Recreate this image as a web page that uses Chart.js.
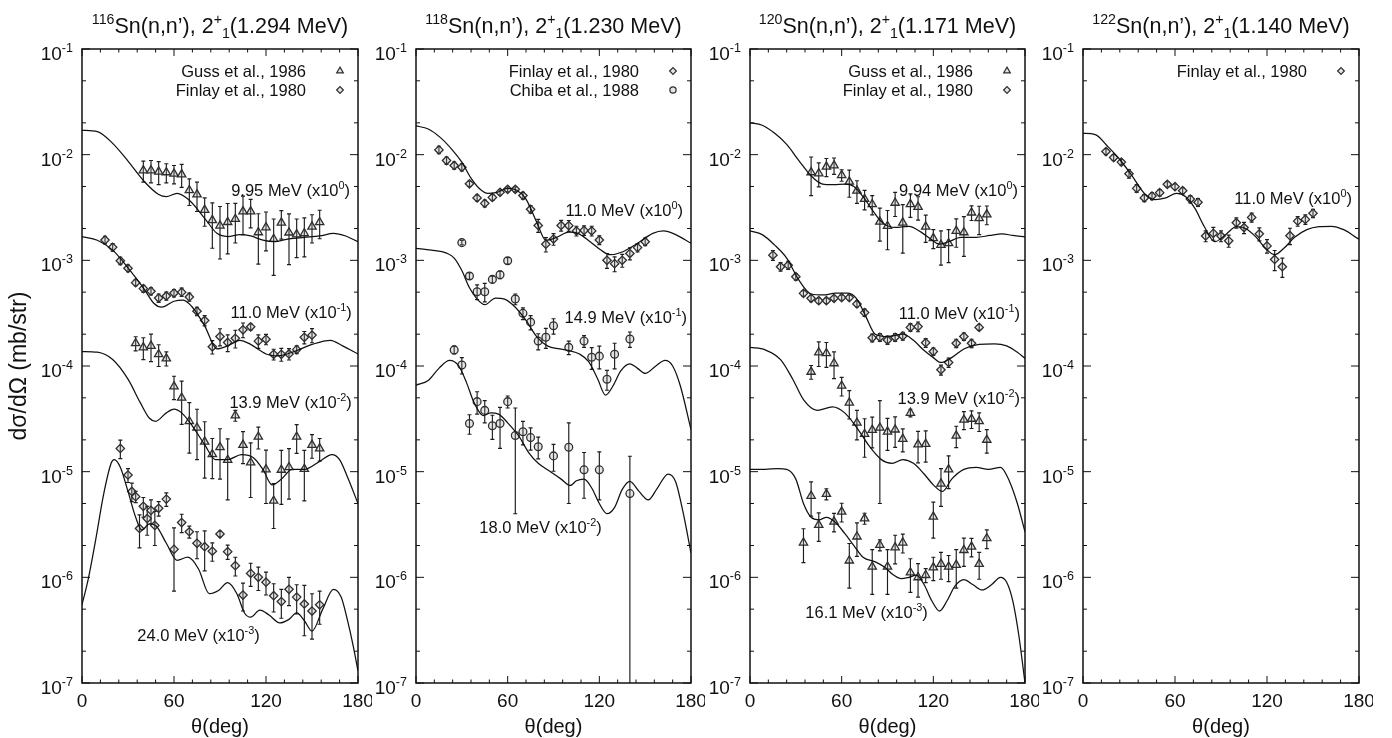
<!DOCTYPE html>
<html>
<head>
<meta charset="utf-8">
<title>Sn(n,n') 2+ angular distributions</title>
<script src="https://cdn.jsdelivr.net/npm/chart.js@4.4.1/dist/chart.umd.min.js"></script>
<style>
    html, body { margin: 0; padding: 0; background: #fff; }
    #figure { position: relative; width: 1392px; height: 738px; overflow: hidden; }
    #figure canvas { position: absolute; top: 0; }
</style>
</head>
<body>
<div id="figure">
    <canvas id="chart_sn116"></canvas>
    <canvas id="chart_sn118"></canvas>
    <canvas id="chart_sn120"></canvas>
    <canvas id="chart_sn122"></canvas>
</div>
<script>
// ---- axes ----
var xTickLabels = [0, 60, 120, 180];
var yTickExponents = [-7, -6, -5, -4, -3, -2, -1];

// ---- measured angles (deg) ----
var theta_finlay = [15, 20, 25, 30, 35, 40, 45, 50, 55, 60, 65, 70, 75, 80, 85, 90, 95, 100, 105, 110, 115, 120, 125, 130, 135, 140, 145, 150];
var theta_guss40 = [40, 45, 50, 55, 60, 65, 70, 75, 80, 85, 90, 95, 100, 105, 110, 115, 120, 125, 130, 135, 140, 145, 150, 155];
var theta_guss35 = [35, 40, 45, 50, 55, 60, 65, 70, 75, 80, 85, 90, 95, 100, 105, 110, 115, 120, 125, 130, 135, 140, 145, 150, 155];
var theta_finlay24 = [25, 30, 32.5, 35, 37.5, 40, 42.5, 45, 47.5, 50, 55, 60, 65, 70, 75, 80, 85, 90, 95, 100, 105, 110, 115, 120, 125, 130, 135, 140, 145, 150, 155];
var theta_chiba149 = [30, 35, 40, 45, 50, 55, 60, 65, 70, 75, 80, 85, 90, 100, 110, 115, 120, 125, 130, 140];
var theta_chiba180 = [25, 30, 35, 40, 45, 50, 55, 60, 65, 70, 75, 80, 90, 100, 110, 120, 140];

// ---- 116Sn data (mb/str, already scaled) ----
var sn116_guss995 = [7.1e-3, 7.1e-3, 6.9e-3, 6.8e-3, 6.6e-3, 6.5e-3, 4.6e-3, 4.2e-3, 3.0e-3, 2.4e-3, 2.13e-3, 2.3e-3, 2.46e-3, 2.9e-3, 2.9e-3, 1.84e-3, 2.05e-3, 1.59e-3, 2.27e-3, 1.83e-3, 1.76e-3, 1.80e-3, 2.08e-3, 2.29e-3];
var sn116_guss995_err = [1.6e-3, 1.7e-3, 1.7e-3, 1.4e-3, 1.3e-3, 1.6e-3, 1.3e-3, 1.3e-3, 9e-4, 1.1e-3, 1.1e-3, 1.15e-3, 1e-3, 1.15e-3, 8.7e-4, 9.2e-4, 8.2e-4, 8.7e-4, 6.8e-4, 9.2e-4, 7e-4, 7.2e-4, 6.2e-4, 6.9e-4];
var sn116_finlay110 = [1.56e-3, 1.33e-3, 9.9e-4, 8.4e-4, 6.15e-4, 5.4e-4, 5.1e-4, 4.4e-4, 4.6e-4, 4.9e-4, 5.0e-4, 4.5e-4, 3.3e-4, 2.7e-4, 1.52e-4, 1.9e-4, 1.67e-4, 1.83e-4, 2.2e-4, 2.35e-4, 1.72e-4, 1.79e-4, 1.29e-4, 1.29e-4, 1.3e-4, 1.43e-4, 1.87e-4, 1.96e-4];
var sn116_finlay110_err = [1.3e-4, 1.1e-4, 8e-5, 6e-5, 4e-5, 4e-5, 4e-5, 4e-5, 4e-5, 4e-5, 4.5e-5, 4e-5, 3e-5, 3e-5, 2.2e-5, 3.5e-5, 3e-5, 3.5e-5, 3.5e-5, 1.5e-5, 2.5e-5, 2e-5, 1.5e-5, 1.8e-5, 1.6e-5, 1.2e-5, 2.5e-5, 3e-5];
var sn116_guss139 = [1.64e-4, 1.5e-4, 1.55e-4, 1.29e-4, 1.18e-4, 6.4e-5, 5.0e-5, 3.0e-5, 2.6e-5, 1.92e-5, 1.46e-5, 1.7e-5, 1.29e-5, 3.4e-5, 1.79e-5, 1.22e-5, 2.14e-5, 1.05e-5, 5.3e-6, 1.04e-5, 1.1e-5, 2.14e-5, 1.06e-5, 1.79e-5, 1.66e-5];
var sn116_guss139_err = [2.5e-5, 3.5e-5, 4.5e-5, 3e-5, 1.8e-5, 1.6e-5, 2.2e-5, 1.5e-5, 1.3e-5, 1.05e-5, 6e-6, 8.5e-6, 7.5e-6, 4e-6, 6e-6, 6.5e-6, 5e-6, 5.5e-6, 2.4e-6, 5.5e-6, 5.5e-6, 6.5e-6, 5.3e-6, 4.5e-6, 4e-6];
var sn116_finlay240 = [1.66e-5, 9.3e-6, 6.5e-6, 5.8e-6, 2.9e-6, 4.7e-6, 3.6e-6, 4.3e-6, 3.1e-6, 4.5e-6, 5.5e-6, 1.84e-6, 3.3e-6, 2.7e-6, 2.1e-6, 1.95e-6, 1.77e-6, 2.57e-6, 1.75e-6, 1.29e-6, 6.8e-7, 1.09e-6, 1.0e-6, 9.0e-7, 6.7e-7, 5.9e-7, 7.7e-7, 6.5e-7, 5.6e-7, 4.8e-7, 5.5e-7];
var sn116_finlay240_err = [3.3e-6, 1.4e-6, 1.3e-6, 7e-7, 1e-6, 1e-6, 1.1e-6, 1.1e-6, 1.1e-6, 7e-7, 8e-7, 1.1e-6, 6.5e-7, 3.5e-7, 6e-7, 8e-7, 3.5e-7, 1.5e-7, 2.7e-7, 2.6e-7, 2e-7, 2.7e-7, 2.5e-7, 2.2e-7, 2e-7, 1.8e-7, 2.3e-7, 2e-7, 2.8e-7, 2.2e-7, 1.9e-7];

// ---- 118Sn data ----
var sn118_finlay110 = [1.11e-2, 8.8e-3, 7.9e-3, 7.6e-3, 5.3e-3, 3.9e-3, 3.46e-3, 3.94e-3, 4.4e-3, 4.7e-3, 4.7e-3, 4.1e-3, 3.04e-3, 2.14e-3, 1.42e-3, 1.59e-3, 2.14e-3, 2.13e-3, 1.9e-3, 1.92e-3, 1.9e-3, 1.56e-3, 1.0e-3, 9.3e-4, 1.0e-3, 1.16e-3, 1.32e-3, 1.5e-3];
var sn118_finlay110_err = [9e-4, 7e-4, 6e-4, 6e-4, 3e-4, 2.5e-4, 2.5e-4, 2.5e-4, 2.5e-4, 2.5e-4, 2.5e-4, 3e-4, 2.5e-4, 3e-4, 2.2e-4, 2e-4, 2.5e-4, 2.5e-4, 2e-4, 2e-4, 2e-4, 1.5e-4, 1.6e-4, 1.5e-4, 1.4e-4, 1.5e-4, 1.2e-4, 1.2e-4];
var sn118_chiba149 = [1.47e-3, 7.1e-4, 5.05e-4, 5.05e-4, 6.6e-4, 7.3e-4, 9.9e-4, 4.3e-4, 3.15e-4, 2.6e-4, 1.72e-4, 1.87e-4, 2.4e-4, 1.5e-4, 1.72e-4, 1.21e-4, 1.24e-4, 7.5e-5, 1.29e-4, 1.8e-4];
var sn118_chiba149_err = [7e-5, 5e-5, 8e-5, 1e-4, 5e-5, 6e-5, 7e-5, 5e-5, 4e-5, 4e-5, 3e-5, 4e-5, 4e-5, 2.2e-5, 2.2e-5, 2.8e-5, 3e-5, 1.6e-5, 3.5e-5, 3e-5];
var sn118_chiba180 = [1.42e-4, 1.02e-4, 2.86e-5, 4.6e-5, 3.8e-5, 2.72e-5, 2.86e-5, 4.6e-5, 2.2e-5, 2.39e-5, 2.1e-5, 1.72e-5, 1.41e-5, 1.7e-5, 1.04e-5, 1.04e-5, 6.2e-6];
var sn118_chiba180_err = [1.2e-5, 1.8e-5, 6e-6, 1.1e-5, 9e-6, 7e-6, 1.2e-5, 6e-6, 1.8e-5, 6e-6, 5e-6, 4e-6, 4e-6, 1.2e-5, 4.8e-6, 5e-6, 7.8e-6];

// ---- 120Sn data ----
var sn120_guss994 = [6.8e-3, 6.65e-3, 7.7e-3, 7.9e-3, 6.4e-3, 5.55e-3, 4.56e-3, 3.8e-3, 3.39e-3, 2.32e-3, 2.11e-3, 3.5e-3, 2.27e-3, 3.4e-3, 3.2e-3, 2.08e-3, 1.62e-3, 1.4e-3, 1.45e-3, 1.9e-3, 1.84e-3, 2.83e-3, 2.5e-3, 2.72e-3];
var sn120_guss994_err = [2.7e-3, 1.7e-3, 1.5e-3, 1.4e-3, 8e-4, 1.6e-3, 1.1e-3, 8e-4, 7e-4, 8e-4, 8.5e-4, 9e-4, 1.1e-3, 8.5e-4, 8e-4, 6e-4, 3.3e-4, 5e-4, 5e-4, 5.7e-4, 7.5e-4, 4.5e-4, 7.5e-4, 5.5e-4];
var sn120_finlay110 = [1.12e-3, 8.7e-4, 9.0e-4, 7.0e-4, 4.87e-4, 4.37e-4, 4.15e-4, 4.15e-4, 4.37e-4, 4.44e-4, 4.44e-4, 3.87e-4, 3.2e-4, 1.85e-4, 1.87e-4, 1.76e-4, 1.87e-4, 1.92e-4, 2.32e-4, 2.36e-4, 1.66e-4, 1.37e-4, 9.2e-5, 1.08e-4, 1.64e-4, 1.9e-4, 1.64e-4, 2.32e-4];
var sn120_finlay110_err = [1.2e-4, 8e-5, 8e-5, 5e-5, 3e-5, 3e-5, 2.5e-5, 2.5e-5, 2.5e-5, 2.5e-5, 2.5e-5, 2.5e-5, 2.5e-5, 1.6e-5, 1.6e-5, 1.6e-5, 1.6e-5, 1.6e-5, 2e-5, 2.5e-5, 1.6e-5, 1.1e-5, 1e-5, 1.1e-5, 1.5e-5, 1.5e-5, 1.5e-5, 1.5e-5];
var sn120_guss139 = [8.8e-5, 1.34e-4, 1.32e-4, 1.06e-4, 6.5e-5, 4.5e-5, 2.9e-5, 2.27e-5, 2.48e-5, 2.6e-5, 2.39e-5, 2.5e-5, 2.04e-5, 3.6e-5, 1.81e-5, 1.83e-5, 3.75e-6, 7.7e-6, 1.05e-5, 2.19e-5, 3.1e-5, 3.16e-5, 3.0e-5, 2.0e-5];
var sn120_guss139_err = [1.3e-5, 3.5e-5, 3.5e-5, 3e-5, 1.3e-5, 1.35e-5, 9e-6, 9e-6, 8e-6, 2.1e-5, 8e-6, 8e-6, 5e-6, 3e-6, 6e-6, 6e-6, 1.4e-6, 3e-6, 3.6e-6, 5e-6, 6e-6, 6e-6, 6e-6, 5e-6];
var sn120_guss161 = [2.13e-6, 5.9e-6, 3.13e-6, 6.15e-6, 3.36e-6, 4.18e-6, 1.44e-6, 2.43e-6, 3.61e-6, 1.26e-6, 2.02e-6, 1.26e-6, 1.92e-6, 2.13e-6, 1.11e-6, 1.0e-6, 1.05e-6, 1.24e-6, 1.34e-6, 1.26e-6, 1.31e-6, 1.81e-6, 1.95e-6, 1.34e-6, 2.34e-6];
var sn120_guss161_err = [7.5e-7, 2.1e-6, 9.4e-7, 7.4e-7, 6.7e-7, 8.4e-7, 6.5e-7, 8.5e-7, 4.3e-7, 5.7e-7, 2.4e-7, 5.7e-7, 5.8e-7, 4.3e-7, 3.9e-7, 3.5e-7, 1.6e-7, 3.1e-7, 3.8e-7, 3.5e-7, 5.2e-7, 5.4e-7, 3.9e-7, 3.8e-7, 4.7e-7];

// ---- 122Sn data ----
var sn122_finlay110 = [1.07e-2, 9.4e-3, 8.5e-3, 6.6e-3, 4.8e-3, 3.9e-3, 4.06e-3, 4.37e-3, 5.24e-3, 4.98e-3, 4.56e-3, 3.8e-3, 3.54e-3, 1.7e-3, 1.8e-3, 1.7e-3, 1.53e-3, 2.27e-3, 2.04e-3, 2.55e-3, 1.78e-3, 1.37e-3, 1.02e-3, 8.7e-4, 1.71e-3, 2.35e-3, 2.44e-3, 2.79e-3];
var sn122_finlay110_err = [7e-4, 6e-4, 5e-4, 6e-4, 4e-4, 3e-4, 3e-4, 3e-4, 3e-4, 3e-4, 3e-4, 3e-4, 3e-4, 2e-4, 2.5e-4, 2e-4, 2e-4, 2.5e-4, 2.5e-4, 2.5e-4, 2.5e-4, 2e-4, 2.2e-4, 1.8e-4, 3e-4, 2.5e-4, 2.5e-4, 2.5e-4];

// ---- calculated cross sections ----
var calc116_995_t = [0, 10, 20, 30, 40, 50, 55, 62, 70, 80, 88, 95, 103, 110, 118, 125, 135, 145, 155, 164, 172, 180];
var calc116_995 = [1.7e-2, 1.65e-2, 1.28e-2, 8.7e-3, 5.7e-3, 4.2e-3, 4.0e-3, 4.3e-3, 3.7e-3, 2.5e-3, 1.8e-3, 1.68e-3, 1.75e-3, 1.7e-3, 1.55e-3, 1.5e-3, 1.6e-3, 1.65e-3, 1.7e-3, 1.8e-3, 1.7e-3, 1.5e-3];
var calc116_110_t = [0, 10, 20, 30, 40, 47, 52, 60, 66, 72, 80, 88, 95, 103, 110, 120, 128, 140, 150, 162, 170, 180];
var calc116_110 = [1.68e-3, 1.55e-3, 1.25e-3, 8.5e-4, 5.5e-4, 3.9e-4, 3.6e-4, 4.1e-4, 4.2e-4, 3.6e-4, 2.4e-4, 1.45e-4, 1.55e-4, 1.75e-4, 1.6e-4, 1.3e-4, 1.25e-4, 1.4e-4, 1.6e-4, 1.75e-4, 1.55e-4, 1.3e-4];
var calc116_139_t = [0, 10, 20, 30, 38, 44, 48, 55, 60, 65, 72, 80, 87, 95, 104, 112, 118, 124, 130, 137, 145, 155, 163, 168, 173, 180];
var calc116_139 = [1.37e-4, 1.35e-4, 1.15e-4, 7.5e-5, 4.5e-5, 3.2e-5, 3.0e-5, 3.6e-5, 3.9e-5, 3.6e-5, 2.7e-5, 1.8e-5, 1.3e-5, 1.3e-5, 1.45e-5, 1.35e-5, 1.05e-5, 7.5e-6, 8.5e-6, 1.05e-5, 1.05e-5, 1.25e-5, 1.45e-5, 1.3e-5, 9e-6, 5e-6];
var calc116_240_t = [0, 4, 9, 14, 19, 21, 25, 30, 35, 39, 44, 48, 55, 62, 69, 76, 83, 89, 95, 101, 106, 110, 116, 122, 129, 135, 140, 145, 150, 157, 164, 169, 173, 177, 180];
var calc116_240 = [5.5e-7, 9.5e-7, 2.3e-6, 6e-6, 1.2e-5, 1.3e-5, 1.1e-5, 6.5e-6, 3.7e-6, 2.8e-6, 3.2e-6, 3.1e-6, 2.1e-6, 1.45e-6, 1.55e-6, 1.2e-6, 7e-7, 7.5e-7, 8.9e-7, 7e-7, 4.6e-7, 4.2e-7, 4.9e-7, 4.4e-7, 3.7e-7, 4.0e-7, 4.6e-7, 3.9e-7, 3.1e-7, 5e-7, 7.7e-7, 6.5e-7, 4e-7, 2.2e-7, 1.3e-7];

var calc118_110_t = [0, 8, 16, 24, 30, 36, 42, 47, 53, 60, 66, 72, 79, 85, 92, 100, 106, 114, 121, 127, 135, 145, 155, 162, 170, 180];
var calc118_110 = [1.87e-2, 1.75e-2, 1.45e-2, 1.1e-2, 8.5e-3, 6e-3, 4.7e-3, 4.3e-3, 4.4e-3, 4.8e-3, 4.6e-3, 3.8e-3, 2.3e-3, 1.55e-3, 1.65e-3, 1.85e-3, 1.8e-3, 1.5e-3, 1.25e-3, 1.13e-3, 1.2e-3, 1.45e-3, 1.8e-3, 1.9e-3, 1.75e-3, 1.45e-3];
var calc118_149_t = [0, 10, 20, 25, 30, 35, 40, 45, 52, 58, 65, 72, 79, 86, 94, 100, 107, 113, 119, 124, 129, 134, 140, 145, 150, 157, 163, 168, 173, 180];
var calc118_149 = [1.3e-3, 1.25e-3, 1.17e-3, 1.05e-3, 8e-4, 5.5e-4, 4.3e-4, 3.8e-4, 4.4e-4, 4.3e-4, 3.6e-4, 2.7e-4, 1.9e-4, 1.55e-4, 1.45e-4, 1.4e-4, 1.3e-4, 1.1e-4, 7.5e-5, 5.3e-5, 6.5e-5, 9e-5, 1.05e-4, 9.5e-5, 8.5e-5, 1e-4, 1.13e-4, 1e-4, 6.5e-5, 2.5e-5];
var calc118_180_t = [0, 8, 15, 22, 28, 33, 38, 44, 49, 54, 60, 67, 74, 80, 88, 95, 101, 105, 110, 115, 120, 125, 130, 135, 140, 146, 152, 158, 165, 170, 175, 180];
var calc118_180 = [6.6e-5, 7.3e-5, 9.5e-5, 1.13e-4, 1e-4, 7e-5, 4.5e-5, 3.4e-5, 3.6e-5, 3.5e-5, 2.9e-5, 2.2e-5, 1.5e-5, 1.2e-5, 1.0e-5, 8.5e-6, 7.4e-6, 8.2e-6, 8.5e-6, 7e-6, 5e-6, 4e-6, 4.6e-6, 6.8e-6, 8.1e-6, 6.5e-6, 5.4e-6, 7e-6, 9.5e-6, 8e-6, 4e-6, 1.7e-6];

var calc120_994_t = [0, 8, 16, 24, 32, 40, 47, 55, 62, 68, 74, 80, 87, 95, 104, 112, 118, 124, 130, 138, 148, 157, 165, 172, 180];
var calc120_994 = [2.0e-2, 1.9e-2, 1.6e-2, 1.25e-2, 8.8e-3, 6.3e-3, 5.3e-3, 5.2e-3, 5.25e-3, 5e-3, 4e-3, 3e-3, 2.25e-3, 2.05e-3, 2.1e-3, 1.85e-3, 1.6e-3, 1.42e-3, 1.5e-3, 1.65e-3, 1.65e-3, 1.72e-3, 1.78e-3, 1.72e-3, 1.67e-3];
var calc120_110_t = [0, 8, 16, 24, 32, 40, 48, 56, 64, 70, 76, 82, 90, 100, 107, 114, 120, 125, 132, 140, 150, 160, 168, 175, 180];
var calc120_110 = [1.9e-3, 1.75e-3, 1.4e-3, 1.05e-3, 6.5e-4, 4.8e-4, 4.7e-4, 4.9e-4, 4.9e-4, 4.3e-4, 2.9e-4, 2.0e-4, 1.9e-4, 2.0e-4, 1.75e-4, 1.4e-4, 1.2e-4, 1.08e-4, 1.2e-4, 1.45e-4, 1.6e-4, 1.62e-4, 1.55e-4, 1.35e-4, 1.18e-4];
var calc120_139_t = [0, 10, 20, 28, 35, 44, 54, 62, 70, 78, 86, 93, 100, 107, 114, 120, 126, 132, 140, 148, 156, 164, 170, 175, 180];
var calc120_139 = [1.5e-4, 1.42e-4, 1.15e-4, 7.5e-5, 4.8e-5, 3.8e-5, 4.1e-5, 3.6e-5, 2.6e-5, 1.75e-5, 1.3e-5, 1.2e-5, 1.3e-5, 1.2e-5, 9.5e-6, 7.5e-6, 6.5e-6, 8.5e-6, 1.05e-5, 1.1e-5, 1.05e-5, 1.1e-5, 8e-6, 5e-6, 2.7e-6];
var calc120_161_t = [0, 10, 18, 24, 30, 35, 40, 45, 50, 56, 62, 68, 74, 82, 88, 94, 99, 104, 109, 114, 119, 124, 129, 134, 140, 146, 152, 158, 164, 168, 172, 176, 180];
var calc120_161 = [1.05e-5, 1.05e-5, 1.07e-5, 1.05e-5, 8.5e-6, 5e-6, 3.7e-6, 3.5e-6, 3.7e-6, 3.3e-6, 2.6e-6, 2.0e-6, 1.55e-6, 1.4e-6, 1.25e-6, 1.05e-6, 9.7e-7, 1.0e-6, 1.05e-6, 8.5e-7, 6e-7, 4.8e-7, 6e-7, 8.2e-7, 9.5e-7, 8.5e-7, 7.6e-7, 8.5e-7, 1.0e-6, 9e-7, 6e-7, 2.8e-7, 1e-7];

var calc122_110_t = [0, 8, 16, 24, 32, 40, 47, 54, 61, 67, 73, 79, 86, 93, 100, 106, 113, 119, 125, 131, 138, 146, 154, 162, 170, 180];
var calc122_110 = [1.59e-2, 1.55e-2, 1.2e-2, 9e-3, 6.3e-3, 4.3e-3, 3.75e-3, 3.9e-3, 4.3e-3, 4e-3, 3.1e-3, 2.1e-3, 1.5e-3, 1.75e-3, 2.08e-3, 2.0e-3, 1.65e-3, 1.3e-3, 1.13e-3, 1.3e-3, 1.65e-3, 1.95e-3, 2.08e-3, 2.1e-3, 1.95e-3, 1.58e-3];

// ---- styling ----
var FONT = '"Liberation Sans", Arial, Helvetica, sans-serif';
var INK = '#111';
var MARK = '#2e2e2e';

function toXY(theta, values) {
    return theta.map(function(t, i) { return { x: t, y: values[i] }; });
}

function calcLine(theta, values) {
    return {
        type: 'line',
        data: toXY(theta, values),
        borderColor: INK,
        borderWidth: 1.25,
        pointRadius: 0,
        showLine: true,
        fill: false,
        cubicInterpolationMode: 'monotone'
    };
}

function expPoints(theta, values, errors, style) {
    return {
        type: 'scatter',
        data: toXY(theta, values),
        errors: errors,
        pointStyle: style,
        pointRadius: markerRadius(style),
        pointBorderWidth: 1.3,
        pointBorderColor: MARK,
        pointBackgroundColor: 'rgba(150,150,150,0.25)'
    };
}

function markerRadius(style) {
    if (style === 'triangle') return 4.8;
    if (style === 'circle') return 3.9;
    return 4.2;
}

// text with superscript (1) / subscript (-1) pieces
function drawRich(ctx, parts, x, y, size, align) {
    var widths = [], total = 0;
    parts.forEach(function(p) {
        ctx.font = (p[1] ? size * 0.66 : size) + 'px ' + FONT;
        var w = ctx.measureText(p[0]).width;
        widths.push(w);
        total += w;
    });
    var cx = x;
    if (align === 'right') cx = x - total;
    if (align === 'center') cx = x - total / 2;
    ctx.textAlign = 'left';
    ctx.textBaseline = 'alphabetic';
    parts.forEach(function(p, i) {
        ctx.font = (p[1] ? size * 0.66 : size) + 'px ' + FONT;
        var dy = 0;
        if (p[1] === 1) dy = -0.42 * size;
        if (p[1] === -1) dy = 0.24 * size;
        ctx.fillText(p[0], cx, y + dy);
        cx += widths[i];
    });
}

function drawErrorBars(chart) {
    var ctx = chart.ctx, a = chart.chartArea;
    var xs = chart.scales.x, ys = chart.scales.y;
    ctx.save();
    ctx.beginPath();
    ctx.rect(a.left, a.top, a.right - a.left, a.bottom - a.top);
    ctx.clip();
    ctx.strokeStyle = '#1c1c1c';
    ctx.lineWidth = 1.15;
    chart.data.datasets.forEach(function(ds) {
        if (!ds.errors) return;
        ds.data.forEach(function(pt, i) {
            var e = ds.errors[i];
            var px = xs.getPixelForValue(pt.x);
            var yHi = ys.getPixelForValue(pt.y + e);
            var low = pt.y - e;
            var yLo = low > 0 ? ys.getPixelForValue(low) : a.bottom + 2;
            ctx.beginPath();
            ctx.moveTo(px, yHi);
            ctx.lineTo(px, yLo);
            ctx.moveTo(px - 2, yHi);
            ctx.lineTo(px + 2, yHi);
            if (low > 0) {
                ctx.moveTo(px - 2, yLo);
                ctx.lineTo(px + 2, yLo);
            }
            ctx.stroke();
        });
    });
    ctx.restore();
}

function drawFrame(chart, p) {
    var ctx = chart.ctx, a = chart.chartArea;
    var xs = chart.scales.x, ys = chart.scales.y;
    ctx.save();
    ctx.strokeStyle = INK;
    ctx.fillStyle = INK;
    ctx.lineWidth = 1;
    ctx.beginPath();

    // x ticks: majors every 60, minors every 12, mirrored on top
    for (var t = 0; t <= 180; t += 12) {
        var px = xs.getPixelForValue(t);
        var len = (t % 60 === 0) ? 7 : 3.5;
        ctx.moveTo(px, a.bottom); ctx.lineTo(px, a.bottom - len);
        ctx.moveTo(px, a.top); ctx.lineTo(px, a.top + len);
    }
    // y ticks: decades plus 2x and 5x, mirrored on right
    yTickExponents.forEach(function(ex) {
        [1, 2, 5].forEach(function(m) {
            var v = m * Math.pow(10, ex);
            if (v > 0.1 * 1.0001) return;
            var py = ys.getPixelForValue(v);
            var len = (m === 1) ? 8 : 4;
            ctx.moveTo(a.left, py); ctx.lineTo(a.left + len, py);
            ctx.moveTo(a.right, py); ctx.lineTo(a.right - len, py);
        });
    });
    ctx.stroke();

    ctx.lineWidth = 1.5;
    ctx.strokeRect(a.left, a.top, a.right - a.left, a.bottom - a.top);

    // tick labels
    yTickExponents.forEach(function(ex) {
        var py = ys.getPixelForValue(Math.pow(10, ex));
        drawRich(ctx, [['10', 0], [String(ex), 1]], a.left - 9, py + 11, 19, 'right');
    });
    ctx.font = '19px ' + FONT;
    ctx.textAlign = 'center';
    ctx.textBaseline = 'alphabetic';
    xTickLabels.forEach(function(t) {
        ctx.fillText(String(t), xs.getPixelForValue(t), a.bottom + 24);
    });

    // axis titles
    ctx.font = '20px ' + FONT;
    ctx.fillText('\u03b8(deg)', (a.left + a.right) / 2, 733);
    if (p.yTitle) {
        ctx.save();
        ctx.translate(20, (a.top + a.bottom) / 2);
        ctx.rotate(-Math.PI / 2);
        ctx.font = '23px ' + FONT;
        ctx.textBaseline = 'middle';
        ctx.fillText('d\u03c3/d\u03a9 (mb/str)', 0, 0);
        ctx.restore();
    }

    // panel title
    drawRich(ctx, p.title, (a.left + a.right) / 2, 33, 21.5, 'center');

    // legend, right-aligned with markers
    p.legend.forEach(function(item, i) {
        var ly = a.top + 22 + i * 19;
        drawRich(ctx, [[item.label, 0]], a.right - 52, ly + 6, 16.5, 'right');
        ctx.strokeStyle = MARK;
        ctx.fillStyle = 'rgba(150,150,150,0.25)';
        ctx.lineWidth = 1.2;
        Chart.helpers.drawPoint(ctx, {
            pointStyle: item.style, rotation: 0,
            radius: markerRadius(item.style) * 0.8, borderWidth: 1.2
        }, a.right - 18, ly);
        ctx.fillStyle = INK;
    });

    // energy / scale labels
    p.notes.forEach(function(n) {
        var nx = xs.getPixelForValue(n.theta);
        var ny = ys.getPixelForValue(n.at);
        drawRich(ctx, n.parts, nx, ny + 6, 16.5, n.align);
    });
    ctx.restore();
}

var panelPlugin = {
    id: 'panelPlugin',
    beforeDatasetsDraw: function(chart) { drawErrorBars(chart); },
    afterDraw: function(chart) { drawFrame(chart, chart.config.options.panel); }
};

function energyLabel(text, power) {
    return [[text + ' (x10', 0], [power, 1], [')', 0]];
}

var panels = [
    {
        id: 'chart_sn116', plotLeft: 82, plotRight: 358, yTitle: true,
        title: [['116', 1], ['Sn(n,n\u2019), 2', 0], ['+', 1], ['1', -1], ['(1.294 MeV)', 0]],
        legend: [{ label: 'Guss et al., 1986', style: 'triangle' }, { label: 'Finlay et al., 1980', style: 'rectRot' }],
        notes: [
            { parts: energyLabel('9.95 MeV', '0'), theta: 174.8, at: 4.6e-3, align: 'right' },
            { parts: energyLabel('11.0 MeV', '-1'), theta: 176, at: 3.24e-4, align: 'right' },
            { parts: energyLabel('13.9 MeV', '-2'), theta: 176, at: 4.57e-5, align: 'right' },
            { parts: energyLabel('24.0 MeV', '-3'), theta: 76, at: 2.85e-7, align: 'center' }
        ],
        datasets: [
            calcLine(calc116_995_t, calc116_995),
            calcLine(calc116_110_t, calc116_110),
            calcLine(calc116_139_t, calc116_139),
            calcLine(calc116_240_t, calc116_240),
            expPoints(theta_guss40, sn116_guss995, sn116_guss995_err, 'triangle'),
            expPoints(theta_finlay, sn116_finlay110, sn116_finlay110_err, 'rectRot'),
            expPoints(theta_guss35, sn116_guss139, sn116_guss139_err, 'triangle'),
            expPoints(theta_finlay24, sn116_finlay240, sn116_finlay240_err, 'rectRot')
        ]
    },
    {
        id: 'chart_sn118', plotLeft: 416, plotRight: 691, yTitle: false,
        title: [['118', 1], ['Sn(n,n\u2019), 2', 0], ['+', 1], ['1', -1], ['(1.230 MeV)', 0]],
        legend: [{ label: 'Finlay et al., 1980', style: 'rectRot' }, { label: 'Chiba et al., 1988', style: 'circle' }],
        notes: [
            { parts: energyLabel('11.0 MeV', '0'), theta: 174.8, at: 3.0e-3, align: 'right' },
            { parts: energyLabel('14.9 MeV', '-1'), theta: 177.4, at: 2.9e-4, align: 'right' },
            { parts: energyLabel('18.0 MeV', '-2'), theta: 81.5, at: 3.0e-6, align: 'center' }
        ],
        datasets: [
            calcLine(calc118_110_t, calc118_110),
            calcLine(calc118_149_t, calc118_149),
            calcLine(calc118_180_t, calc118_180),
            expPoints(theta_finlay, sn118_finlay110, sn118_finlay110_err, 'rectRot'),
            expPoints(theta_chiba149, sn118_chiba149, sn118_chiba149_err, 'circle'),
            expPoints(theta_chiba180, sn118_chiba180, sn118_chiba180_err, 'circle')
        ]
    },
    {
        id: 'chart_sn120', plotLeft: 750, plotRight: 1025, yTitle: false,
        title: [['120', 1], ['Sn(n,n\u2019), 2', 0], ['+', 1], ['1', -1], ['(1.171 MeV)', 0]],
        legend: [{ label: 'Guss et al., 1986', style: 'triangle' }, { label: 'Finlay et al., 1980', style: 'rectRot' }],
        notes: [
            { parts: energyLabel('9.94 MeV', '0'), theta: 175.4, at: 4.6e-3, align: 'right' },
            { parts: energyLabel('11.0 MeV', '-1'), theta: 176.7, at: 3.2e-4, align: 'right' },
            { parts: energyLabel('13.9 MeV', '-2'), theta: 176.7, at: 5.0e-5, align: 'right' },
            { parts: energyLabel('16.1 MeV', '-3'), theta: 76.3, at: 4.7e-7, align: 'center' }
        ],
        datasets: [
            calcLine(calc120_994_t, calc120_994),
            calcLine(calc120_110_t, calc120_110),
            calcLine(calc120_139_t, calc120_139),
            calcLine(calc120_161_t, calc120_161),
            expPoints(theta_guss40, sn120_guss994, sn120_guss994_err, 'triangle'),
            expPoints(theta_finlay, sn120_finlay110, sn120_finlay110_err, 'rectRot'),
            expPoints(theta_guss40, sn120_guss139, sn120_guss139_err, 'triangle'),
            expPoints(theta_guss35, sn120_guss161, sn120_guss161_err, 'triangle')
        ]
    },
    {
        id: 'chart_sn122', plotLeft: 1083, plotRight: 1359, yTitle: false,
        title: [['122', 1], ['Sn(n,n\u2019), 2', 0], ['+', 1], ['1', -1], ['(1.140 MeV)', 0]],
        legend: [{ label: 'Finlay et al., 1980', style: 'rectRot' }],
        notes: [
            { parts: energyLabel('11.0 MeV', '0'), theta: 175.4, at: 3.9e-3, align: 'right' }
        ],
        datasets: [
            calcLine(calc122_110_t, calc122_110),
            expPoints(theta_finlay, sn122_finlay110, sn122_finlay110_err, 'rectRot')
        ]
    }
];

function draw_panel(p) {
    var padLeft = 82, padRight = 14, padTop = 49, padBottom = 55;
    var el = document.getElementById(p.id);
    var w = p.plotRight - p.plotLeft + padLeft + padRight;
    el.width = w;
    el.height = 738;
    el.style.left = (p.plotLeft - padLeft) + 'px';
    el.style.width = w + 'px';
    el.style.height = '738px';

    // Draw Chart
    new Chart(el, {
        type: 'scatter',
        data: { datasets: p.datasets },
        options: {
            responsive: false,
            animation: false,
            devicePixelRatio: 1,
            events: [],
            panel: p,
            layout: { padding: { left: padLeft, right: padRight, top: padTop, bottom: padBottom } },
            plugins: { legend: { display: false }, tooltip: { enabled: false }, title: { display: false } },
            scales: {
                x: { type: 'linear', min: 0, max: 180, display: false },
                y: { type: 'logarithmic', min: 1e-7, max: 1e-1, display: false }
            }
        },
        plugins: [panelPlugin]
    });
}

panels.forEach(draw_panel);
</script>
</body>
</html>
